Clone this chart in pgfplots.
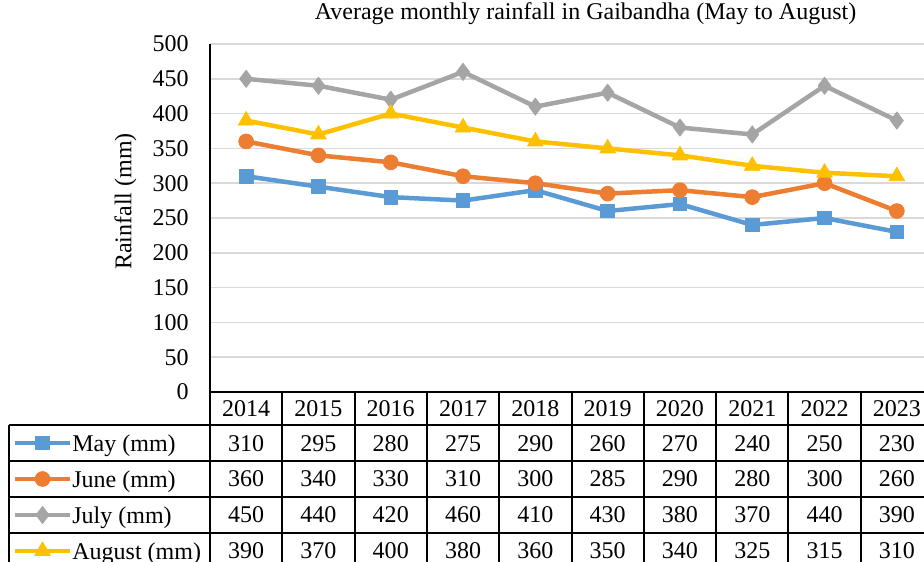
\documentclass[border=0pt]{standalone}
\usepackage{fontspec}
\setmainfont{Liberation Serif}
\usepackage{pgfplots}
\usepackage{pgfplotstable}
\pgfplotsset{compat=1.18}
\definecolor{maycol}{HTML}{5B9BD5}
\definecolor{juncol}{HTML}{ED7D31}
\definecolor{julcol}{HTML}{A5A5A5}
\definecolor{augcol}{HTML}{FFC000}
\definecolor{gridc}{HTML}{D9D9D9}

% monthly rainfall (mm), Gaibandha
\pgfplotstableread{
x year may june july aug
0 2014 310 360 450 390
1 2015 295 340 440 370
2 2016 280 330 420 400
3 2017 275 310 460 380
4 2018 290 300 410 360
5 2019 260 285 430 350
6 2020 270 290 380 340
7 2021 240 280 370 325
8 2022 250 300 440 315
9 2023 230 260 390 310
}\rain

\pgfplotsset{
  tablerow/.style={forget plot, draw=none, mark=none,
    point meta=explicit symbolic,
    nodes near coords={\pgfplotspointmeta},
    every node near coord/.append style={anchor=center, inner sep=0pt}},
}

\begin{document}
\fontsize{12}{14.4}\selectfont
\begin{tikzpicture}
\begin{axis}[
  name=ax,
  scale only axis,
  width=361.5pt, height=174pt,
  xmin=-0.5, xmax=9.5,
  ymin=0, ymax=500,
  clip=false,
  axis lines=left,
  axis line style={-, black, line width=0.8pt},
  ytick={0,50,...,500},
  xtick={0,...,9},
  xticklabels from table={\rain}{year},
  major tick length=0pt,
  /pgf/number format/assume math mode=true,
  yticklabel style={anchor=east, inner sep=0pt, xshift=-10.5pt},
  xticklabel style={anchor=center, inner sep=0pt, yshift=-8.25pt},
  ymajorgrids=true,
  major grid style={gridc, line width=0.8pt},
  title={Average monthly rainfall in Gaibandha (May to August)},
  title style={at={(axis description cs:0.5194,1.0353)}, anchor=base, inner sep=0pt},
  ylabel={Rainfall (mm)},
  ylabel style={at={(axis description cs:-0.117,0.547)}, anchor=center, inner sep=0pt},
  legend cell align=left,
  legend style={at={(axis description cs:-0.2729,-0.0948)}, anchor=north west,
    draw=none, fill=none, inner sep=0pt, outer sep=0pt, row sep=0pt,
    nodes={anchor=base west, inner sep=0pt, text height=13.25pt, text depth=4.75pt},
    /tikz/column 1/.style={column sep=0pt}},
  legend image code/.code={
    \draw[#1, mark repeat=2, mark phase=2]
      plot coordinates {(0pt,4.25pt) (13.8pt,4.25pt) (27.6pt,4.25pt)};
  },
  every axis plot/.append style={line width=2.25pt, line join=round},
]
\addplot[color=maycol, mark=square*, mark size=3.4pt, mark options={solid, line width=0.4pt}]
  table[x=x, y=may] {\rain};
\addplot[color=juncol, mark=*, mark size=3.7pt, mark options={solid, line width=0.4pt}]
  table[x=x, y=june] {\rain};
\addplot[color=julcol, mark=diamond*, mark size=4.3pt, mark options={solid, line width=0.4pt}]
  table[x=x, y=july] {\rain};
\addplot[color=augcol, mark=triangle*, mark size=4.5pt, mark options={solid, line width=0.4pt}]
  table[x=x, y=aug] {\rain};
\legend{May (mm), June (mm), July (mm), August (mm)}

% data table below the chart
\addplot[tablerow] table[x=x, y expr=-74,    meta=may]  {\rain};
\addplot[tablerow] table[x=x, y expr=-125,   meta=june] {\rain};
\addplot[tablerow] table[x=x, y expr=-176.7, meta=july] {\rain};
\addplot[tablerow] table[x=x, y expr=-228.4, meta=aug]  {\rain};

\draw[black, line width=1pt] (axis cs:-0.5,0) -- (axis cs:9.5,0);
\pgfplotsinvokeforeach{-47.4,-99,-150.6,-202.2,-253.9}{
  \draw[black, line width=1pt] (axis cs:-3.28,#1) -- (axis cs:9.5,#1);
}
\pgfplotsinvokeforeach{-0.5,0.5,1.5,2.5,3.5,4.5,5.5,6.5,7.5,8.5,9.5}{
  \draw[black, line width=1pt] (axis cs:#1,0) -- (axis cs:#1,-253.9);
}
\draw[black, line width=1pt] (axis cs:-3.28,-47.4) -- (axis cs:-3.28,-253.9);
\end{axis}
\pgfresetboundingbox
\path[use as bounding box] ([shift={(-105pt,-84.5pt)}]ax.south west)
  rectangle ([shift={(-4.5pt,22pt)}]ax.north east);
\end{tikzpicture}
\end{document}
